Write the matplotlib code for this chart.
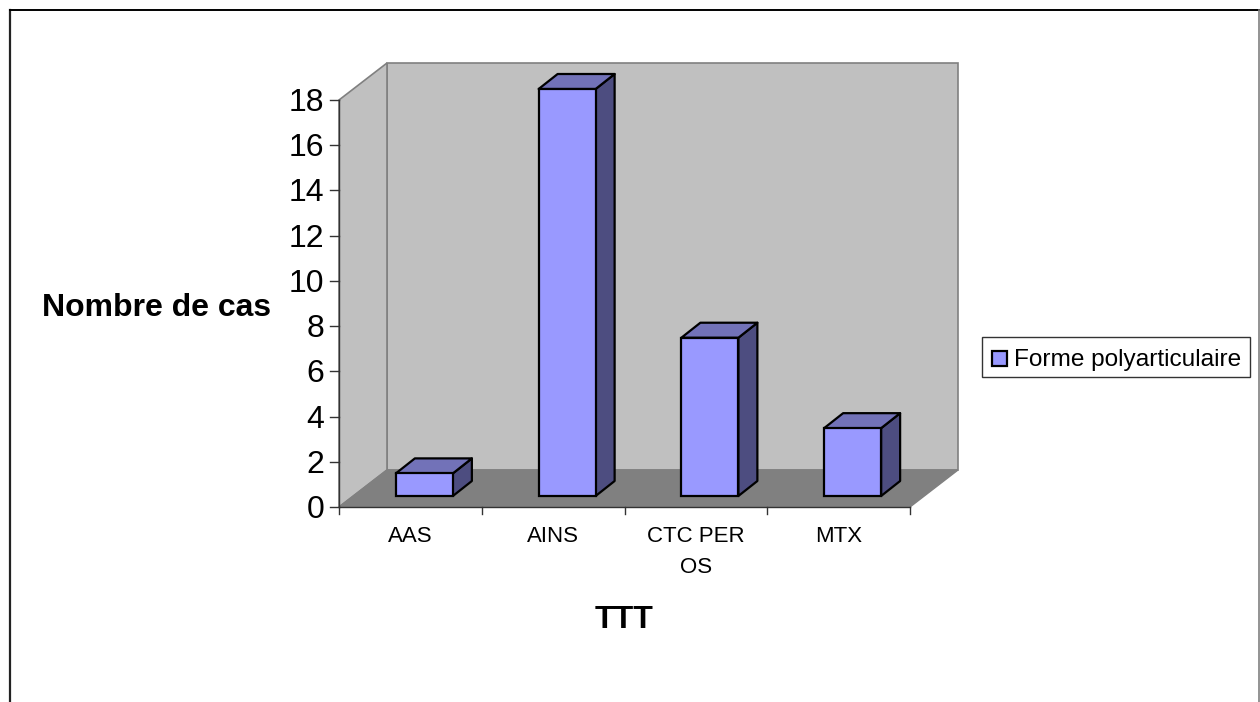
import matplotlib
matplotlib.use("Agg")
import matplotlib.pyplot as plt
from matplotlib.patches import Polygon, Rectangle

categories = ['AAS', 'AINS', 'CTC PER\nOS', 'MTX']
values = [1, 18, 7, 3]
y_ticks = [0, 2, 4, 6, 8, 10, 12, 14, 16, 18]
series_name = 'Forme polyarticulaire'

plt.rcParams['font.family'] = ['Liberation Sans', 'DejaVu Sans']

W, H = 1260, 702
fig = plt.figure(figsize=(W / 100, H / 100), dpi=100)
ax = fig.add_axes([0, 0, 1, 1])
ax.set_xlim(0, W)
ax.set_ylim(H, 0)
ax.axis('off')

# repere en pixels du graphique "3D"
x0, x1 = 339, 910
y_base, y_top = 507, 100
dx, dy = 48, -37
unit = (y_base - y_top) / 18
cat_w = (x1 - x0) / len(categories)

# cadre exterieur
ax.plot([10, 10], [10, H], color='#222222', lw=1.6)
ax.plot([10, 1259], [10, 10], color='black', lw=1.4)
ax.plot([1259, 1259], [10, H], color='#808080', lw=1.2)

# parois
ax.add_patch(Polygon([(x0 + dx, y_top + dy), (x1 + dx, y_top + dy), (x1 + dx, y_base + dy), (x0 + dx, y_base + dy)],
                     fc='#c0c0c0', ec='#808080', lw=1.2))
ax.add_patch(Polygon([(x0, y_top), (x0 + dx, y_top + dy), (x0 + dx, y_base + dy), (x0, y_base)],
                     fc='#c0c0c0', ec='#808080', lw=1.2))
ax.add_patch(Polygon([(x0, y_base), (x1, y_base), (x1 + dx, y_base + dy), (x0 + dx, y_base + dy)],
                     fc='#808080', ec='#808080', lw=1))

# axes
ax.plot([x0, x0], [y_top, y_base], color='#333333', lw=1)
ax.plot([x0, x1], [y_base, y_base], color='#333333', lw=1)
for t in y_ticks:
    y = y_base - t * unit
    ax.plot([x0 - 9, x0], [y, y], color='#333333', lw=1)
    ax.text(x0 - 15, y + 3, str(t), ha='right', va='center', fontsize=23)
for i in range(len(categories) + 1):
    x = x0 + i * cat_w
    ax.plot([x, x], [y_base, y_base + 7], color='#333333', lw=1)

# barres
bar_w = 57
ox, oy = 5, -11
ddx, ddy = 19, -15
for i, (c, v) in enumerate(zip(categories, values)):
    left = x0 + (i + 0.5) * cat_w - bar_w / 2 + 9 + ox
    bottom = y_base + oy
    top = bottom - v * unit
    right = left + bar_w
    ax.add_patch(Polygon([(right, top), (right + ddx, top + ddy), (right + ddx, bottom + ddy), (right, bottom)],
                         fc='#4d4d80', ec='black', lw=1.6, joinstyle='round'))
    ax.add_patch(Polygon([(left, top), (left + ddx, top + ddy), (right + ddx, top + ddy), (right, top)],
                         fc='#7272b8', ec='black', lw=1.6, joinstyle='round'))
    ax.add_patch(Rectangle((left, top), bar_w, bottom - top, fc='#9999ff', ec='black', lw=1.6))
    ax.text(x0 + (i + 0.5) * cat_w, y_base + 19, c, ha='center', va='top', fontsize=16, linespacing=1.6)

# titres
ax.text(157, 308, 'Nombre de cas', ha='center', va='center', fontsize=23, fontweight='bold')
ax.text(624, 620, 'TTT', ha='center', va='center', fontsize=23, fontweight='bold')

# legende
ax.add_patch(Rectangle((982, 337), 268, 40, fc='white', ec='#333333', lw=1))
ax.add_patch(Rectangle((992, 351), 15, 15, fc='#9999ff', ec='black', lw=1.6))
ax.text(1014, 360, series_name, ha='left', va='center', fontsize=17.6)

fig.savefig('out.png', dpi=100)
